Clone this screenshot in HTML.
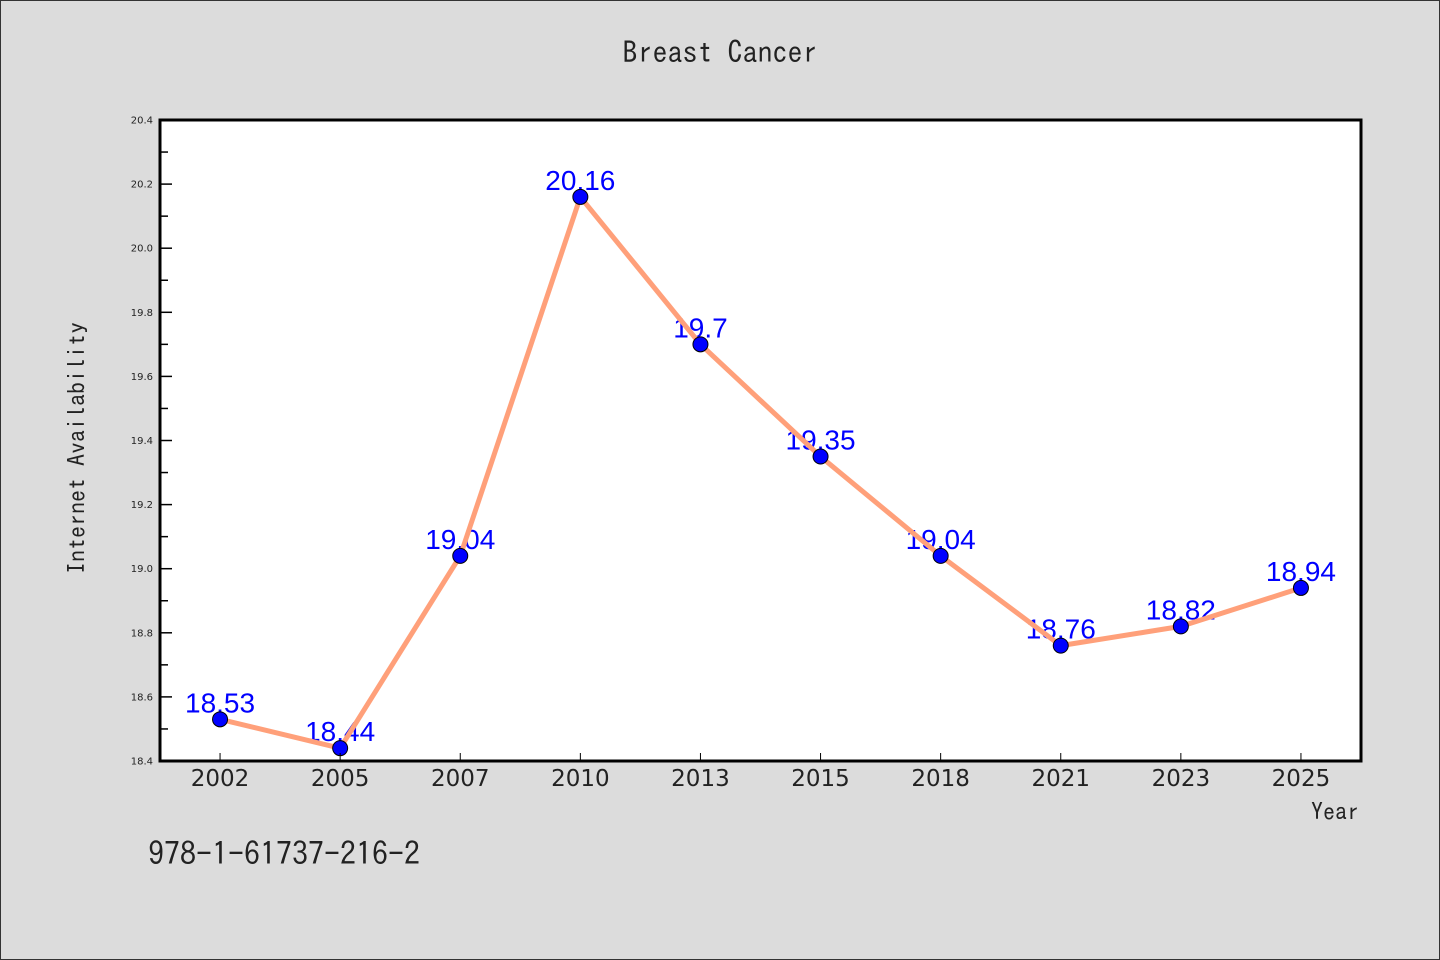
<!DOCTYPE html>
<html>
<head>
<meta charset="utf-8">
<style>
html,body{margin:0;padding:0;background:#dcdcdc;}
svg{display:block;}
</style>
</head>
<body>
<svg id="chart" width="1440" height="960" xmlns="http://www.w3.org/2000/svg">
  <rect x="0.5" y="0.5" width="1439" height="959" fill="#dcdcdc" stroke="#333" stroke-width="1"/>
  <text x="720" y="63" text-anchor="middle" font-family="IPAGothic, 'DejaVu Sans Mono', monospace" font-size="30" fill="#222">Breast Cancer</text>
  <rect x="160" y="120" width="1201" height="641" fill="#fff"/>
  <g id="marks"></g>
  <rect x="160" y="120" width="1201" height="641" fill="none" stroke="#000" stroke-width="3"/>
  <text transform="translate(85,448) rotate(-90)" text-anchor="middle" font-family="IPAGothic, 'DejaVu Sans Mono', monospace" font-size="24" fill="#222">Internet Availability</text>
  <text x="1359" y="820" text-anchor="end" font-family="IPAGothic, 'DejaVu Sans Mono', monospace" font-size="24" fill="#222">Year</text>
  <text x="148" y="865" font-family="IPAGothic, 'DejaVu Sans Mono', monospace" font-size="32" fill="#222">978-1-61737-216-2</text>
</svg>
<script>
const categories = ["2002","2005","2007","2010","2013","2015","2018","2021","2023","2025"];
const values = [18.53,18.44,19.04,20.16,19.7,19.35,19.04,18.76,18.82,18.94];
const valueLabels = ["18.53","18.44","19.04","20.16","19.7","19.35","19.04","18.76","18.82","18.94"];
const yTicks = [18.4,18.6,18.8,19.0,19.2,19.4,19.6,19.8,20.0,20.2,20.4];
const yTickLabels = ["18.4","18.6","18.8","19.0","19.2","19.4","19.6","19.8","20.0","20.2","20.4"];

const NS = "http://www.w3.org/2000/svg";
const svg = document.getElementById('chart');
const marks = document.getElementById('marks');
const X0 = 160, X1 = 1361, Y0 = 120, Y1 = 761;
const yMin = 18.4, yMax = 20.4;
const step = (X1 - X0) / categories.length;
function xPos(i){ return X0 + step * (i + 0.5); }
function yPos(v){ return Y1 - (v - yMin) / (yMax - yMin) * (Y1 - Y0); }
function mk(tag, attrs, parent){
  const e = document.createElementNS(NS, tag);
  for (const k in attrs) e.setAttribute(k, attrs[k]);
  (parent || svg).appendChild(e);
  return e;
}

// y ticks
yTicks.forEach((v, i) => {
  const y = yPos(v);
  const t = mk('line', {x1: X0, x2: X0 + 12, y1: y, y2: y, stroke: '#000', 'stroke-width': 1.5});
  
  
  if (i < yTicks.length - 1) {
    const ym = yPos((v + yTicks[i + 1]) / 2);
    const m = mk('line', {x1: X0, x2: X0 + 8, y1: ym, y2: ym, stroke: '#000', 'stroke-width': 1.5});
    
    
  }
  const lb = mk('text', {x: X0 - 7, y: y + 3.5, 'text-anchor': 'end', 'font-family': "'DejaVu Sans', sans-serif", 'font-size': 10, fill: '#222'});
  lb.textContent = yTickLabels[i];
  
  
});

// x ticks
categories.forEach((c, i) => {
  const x = xPos(i);
  const t = mk('line', {x1: x, x2: x, y1: Y1, y2: Y1 - 8, stroke: '#000', 'stroke-width': 1});
  
  
  const lb = mk('text', {x: x, y: Y1 + 25, 'text-anchor': 'middle', 'font-family': "'DejaVu Sans', sans-serif", 'font-size': 23, fill: '#222'});
  lb.textContent = c;
  
  
});

// value labels (behind line)
values.forEach((v, i) => {
  const lb = mk('text', {x: xPos(i), y: yPos(v) - 7, 'text-anchor': 'middle', 'font-family': "'Liberation Sans', sans-serif", 'font-size': 28, fill: '#0000ff'}, marks);
  lb.textContent = valueLabels[i];
  
  
});

// line
const pts = values.map((v, i) => xPos(i) + ',' + yPos(v)).join(' ');
const line = mk('polyline', {points: pts, fill: 'none', stroke: '#ffa07a', 'stroke-width': 5, 'stroke-linejoin': 'round'}, marks);



// markers
values.forEach((v, i) => {
  const c = mk('circle', {cx: xPos(i), cy: yPos(v), r: 7.5, fill: '#0000ff', stroke: '#000', 'stroke-width': 1}, marks);
  
  
});
</script>
</body>
</html>
